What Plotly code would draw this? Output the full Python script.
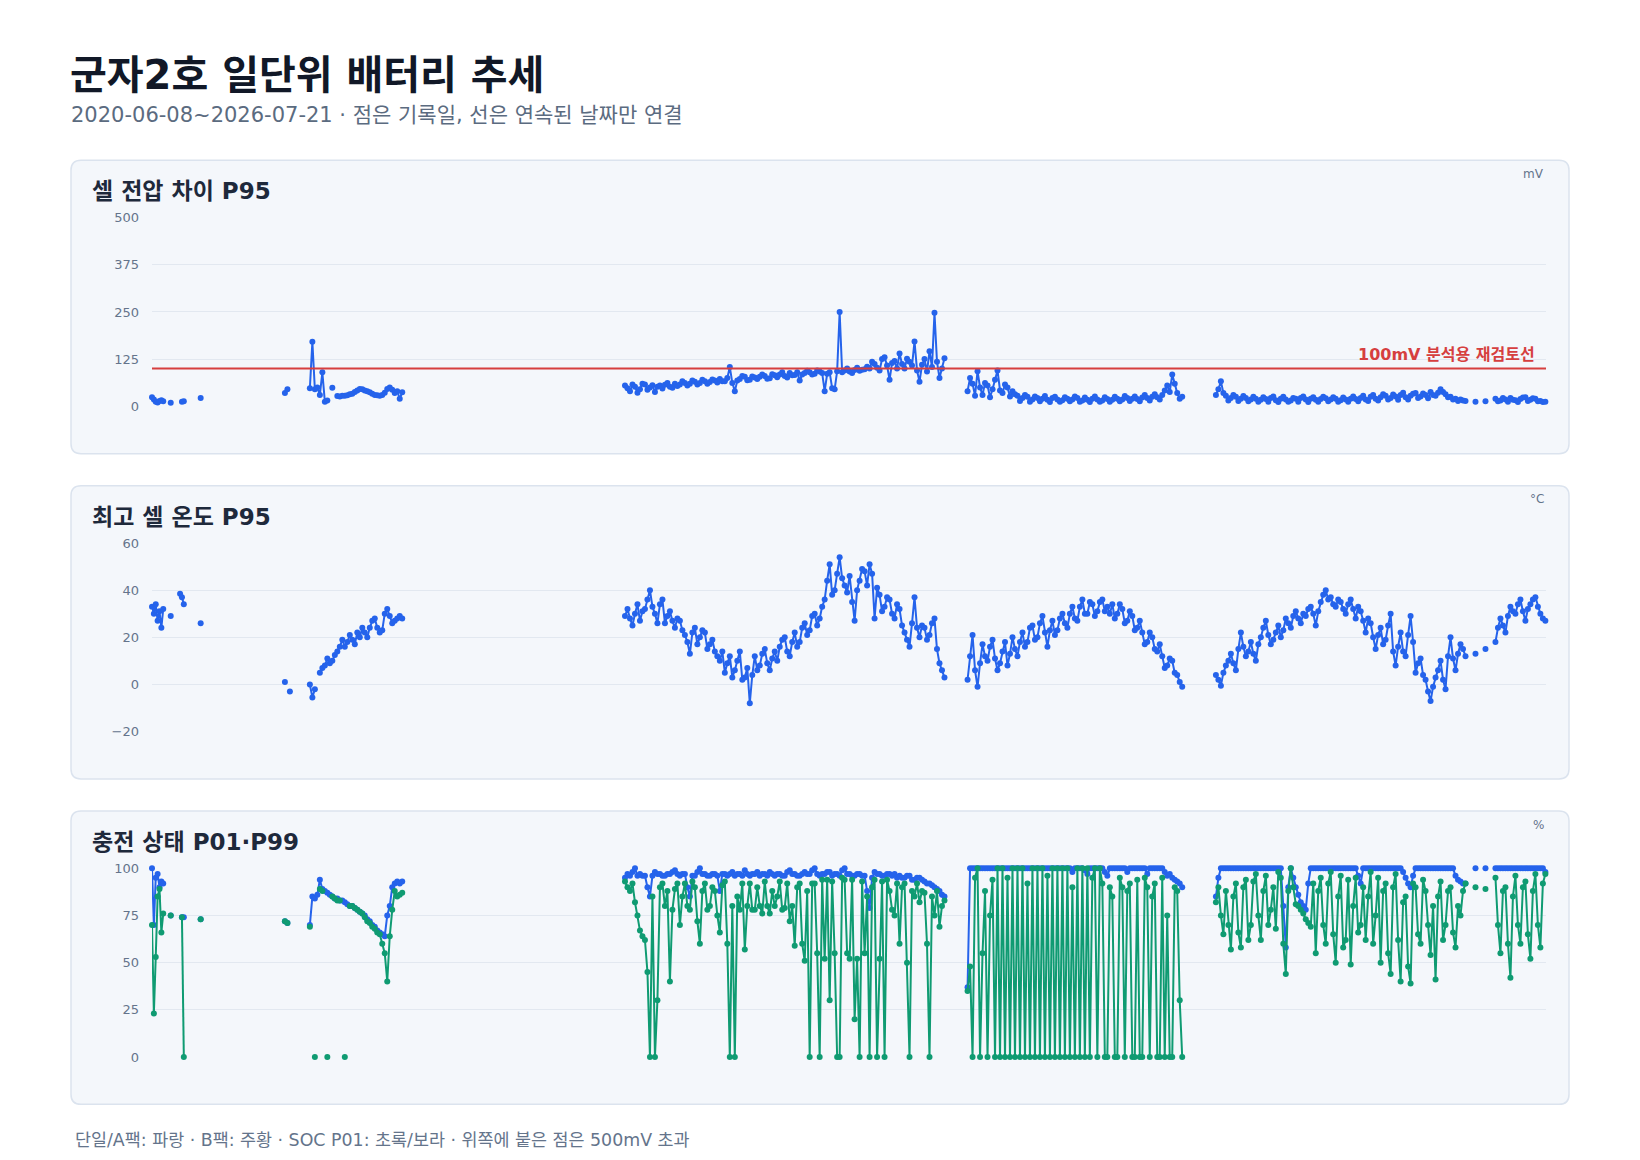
import pandas as pd
import plotly.graph_objects as go

TITLE = "군자2호 일단위 배터리 추세"
SUBTITLE = "2020-06-08~2026-07-21 · 점은 기록일, 선은 연속된 날짜만 연결"
FOOTNOTE = "단일/A팩: 파랑 · B팩: 주황 · SOC P01: 초록/보라 · 위쪽에 붙은 점은 500mV 초과"
PANEL_TITLES = ["셀 전압 차이 P95", "최고 셀 온도 P95", "충전 상태 P01·P99"]
PANEL_UNITS = ["mV", "°C", "%"]
VOLT_TICKS = [0, 125, 250, 375, 500]
TEMP_TICKS = [-20, 0, 20, 40, 60]
SOC_TICKS = [0, 25, 50, 75, 100]
THRESHOLD_MV = 100
THRESHOLD_LABEL = "100mV 분석용 재검토선"
X_START, X_END = "2020-06-08", "2026-07-21"

# 기록 구간: 시작일과 샘플 간격(일)
SEG_STARTS = ["2020-06-08", "2021-01-07", "2022-07-06", "2024-01-06", "2025-02-07"]
SEG_STEP_DAYS = [3, 4, 4, 4, 4]

N = None

# 셀 전압 차이 P95 (mV)
VOLT_A = [24, 18, 12, 10, 14, 16, 13, N, N, N, 9, N, N, N, N, N, 12, 13, N, N,
          N, N, N, N, N, N, 22, N]
VOLT_B = [35, 45, N, N, N, N, N, N, N, N,
          48, 171, 45, 50, 30, 90, 12, 15, N, 49,
          N, 27, 26, 28, 28, 29, 32, 33, 38, 42,
          46, 45, 42, 40, 37, 33, 30, 29, 28, 30,
          36, 46, 50, 44, 35, 40, 20, 37]
VOLT_C = [55, 48, 40, 58, 52, 36, 45, 60, 58, 44, 50, 56, 38, 52, 55, 47, 57, 62, 52, 49,
          60, 54, 58, 66, 62, 55, 60, 68, 65, 58, 62, 70, 66, 60, 64, 71, 68, 63, 72, 66,
          66, 75, 104, 62, 40, 68, 72, 80, 78, 69, 70, 79, 76, 72, 78, 84, 80, 73, 74, 85,
          82, 77, 84, 90, 80, 76, 88, 82, 83, 90, 68, 84, 88, 94, 90, 84, 86, 95, 92, 88,
          40, 86, 90, 48, 45, 93, 250, 90, 95, 100, 92, 88, 96, 102, 94, 97, 98, 105, 100, 118,
          112, 102, 95, 125, 130, 108, 70, 115, 120, 100, 140, 112, 100, 126, 118, 108, 172, 95, 65, 110,
          125, 92, 146, 104, 248, 118, 75, 100, 127]
VOLT_D = [40, 75, 60, 28, 93, 50, 30, 62, 55, 24, 45, 70, 95, 42, 35, 58, 50, 26, 40, 32,
          28, 14, 22, 30, 25, 12, 18, 26, 22, 13, 20, 27, 17, 11, 22, 25, 18, 12, 16, 24,
          20, 13, 18, 26, 22, 12, 15, 23, 17, 11, 20, 26, 18, 12, 15, 24, 19, 12, 17, 25,
          20, 13, 18, 27, 22, 14, 20, 26, 19, 13, 23, 30, 22, 15, 25, 32, 24, 18, 30, 42,
          55, 38, 84, 60, 35, 20, 25]
VOLT_E = [30, 45, 66, 35, 28, 15, 22, 30, 25, 14, 20, 27, 22, 13, 18, 25, 20, 12, 17, 24,
          19, 12, 22, 26, 16, 11, 20, 25, 18, 12, 15, 22, 20, 12, 22, 26, 18, 11, 20, 24,
          17, 12, 19, 25, 21, 13, 18, 24, 20, 12, 16, 23, 18, 12, 20, 26, 19, 13, 22, 28,
          18, 14, 25, 30, 20, 15, 24, 32, 28, 18, 22, 31, 26, 17, 30, 36, 24, 18, 28, 33,
          35, 22, 26, 34, 30, 21, 38, 30, 28, 36, 45, 38, 32, 24, 25, 18, 20, 14, 18, 15,
          14, N, N, N, 12, N, N, N, 13, N, N, N, 20, 13, 15, 22, 18, 12, 22, 17,
          16, 11, 19, 23, 24, 14, 17, 21, 20, 13, 14, 11, 12]

# 최고 셀 온도 P95 (°C)
TEMP_A = [33, 30, 34, 27, 31, 24, 32, N, N, N, 29, N, N, N, N, 38.5, 37, 34, N, N,
          N, N, N, N, N, N, 26, N]
TEMP_B = [1, N, -3, N, N, N, N, N, N, N,
          0, -5.5, -2, N, 5, 7, 8, 11, 9, 10,
          12.5, 14, 16, 19, 16, 18, 21, 19, 17, 22,
          20, 24, 22, 20, 24, 27, 28, 24, 22, 23,
          30, 32, 29, 26, 27, 28, 29, 28]
TEMP_C = [29, 32, 28, 25, 30, 34, 27, 31, 32, 36, 40, 33, 30, 26, 34, 36, 26, 29, 31, 27,
          24, 28, 27, 23, 21, 18, 13, 22, 24, 17, 20, 23, 22, 15, 17, 19, 14, 12, 10, 14,
          5, 9, 12, 3, 6, 10, 14, 2, 3, 7, -8, 4, 12, 6, 8, 13, 15, 9, 6, 11,
          14, 10, 16, 19, 20, 14, 12, 18, 22, 16, 18, 24, 26, 21, 23, 29, 30, 25, 28, 33,
          36, 44, 51, 38, 40, 47, 54, 45, 42, 39, 46, 35, 27, 40, 44, 49, 48, 42, 51, 47,
          28, 41, 38, 31, 33, 37, 36, 30, 28, 34, 32, 25, 22, 19, 16, 26, 37, 24, 20, 25,
          24, 19, 21, 26, 28, 15, 9, 6, 3]
TEMP_D = [2, 12, 21, 6, -1, 9, 17, 12, 10, 16, 19, 11, 6, 9, 14, 18, 8, 13, 20, 15,
          12, 18, 22, 16, 18, 24, 25, 19, 20, 26, 29, 22, 16, 23, 27, 21, 23, 28, 30, 26,
          24, 30, 33, 28, 27, 33, 36, 30, 30, 35, 34, 29, 31, 35, 36, 31, 33, 30, 34, 28,
          30, 34, 32, 26, 27, 31, 29, 23, 24, 27, 22, 17, 18, 22, 20, 15, 14, 17, 12, 7,
          8, 11, 10, 5, 4, 1, -1]
TEMP_E = [4, 2, -0.5, 5, 8, 10, 13, 9, 6, 15, 22, 16, 12, 14, 18, 13, 10, 17, 20, 24,
          27, 21, 17, 19, 22, 25, 20, 23, 28, 26, 24, 29, 31, 28, 26, 30, 29, 32, 33, 30,
          25, 31, 35, 38, 40, 36, 37, 34, 33, 36, 35, 32, 30, 34, 36, 32, 28, 33, 31, 27,
          22, 28, 26, 20, 15, 21, 24, 17, 19, 25, 30, 14, 8, 16, 22, 14, 12, 21, 29, 18,
          5, 9, 11, 4, 2, -3, -7, -1, 3, 6, 10, 2, -2, 12, 20, 11, 6, 13, 17, 15,
          12, N, N, N, 13, N, N, N, 15, N, N, N, 18, 24, 28, 25, 22, 29, 33, 31,
          30, 34, 36, 31, 27, 32, 34, 36, 37, 33, 30, 28, 27]

# 충전 상태 P99 (파랑) / P01 (초록) (%)
SOC_HI_A = [100, 70, 95, 97, 90, 93, 92, N, N, N, 75, N, N, N, N, N, 74, 74, N, N,
            N, N, N, N, N, N, 73, N]
SOC_LO_A = [70, 23, 53, 85, 89, 66, 76, N, N, N, 75, N, N, N, N, N, 74, 0, N, N,
            N, N, N, N, N, N, 73, N]
SOC_HI_B = [72, 71, N, N, N, N, N, N, N, N,
            70, 85, 84, 86, 94, 89, 88, 87, 86, 85,
            84, 84, 83, 83, 82, 81, 80, 80, 79, 78,
            77, 76, 75, 73, 72, 70, 69, 67, 66, 65,
            64, 75, 80, 90, 92, 93, 92, 93]
SOC_LO_B = [72, 71, N, N, N, N, N, N, N, N,
            69, N, 0, N, 89, 88, N, 0, N, 85,
            84, 83, 83, N, 0, N, 80, 80, 79, 78,
            77, 76, 74, 72, 71, 69, 68, 66, 65, 60,
            55, 40, 64, 78, 88, 85, 86, 87]
SOC_HI_C = [95, 97, 96, 98, 100, 96, 97, 96, 96, 90, 85, 96, 98, 97, 97, 96, 96, 97, 97, 98,
            99, 97, 96, 97, 97, 90, 85, 96, 96, 98, 100, 97, 97, 96, 96, 97, 97, 96, 88, 97,
            97, 96, 97, 98, 96, 97, 97, 96, 99, 97, 96, 97, 97, 98, 96, 97, 97, 96, 98, 97,
            96, 97, 97, 96, 96, 98, 99, 97, 97, 96, 96, 97, 98, 97, 97, 99, 100, 97, 96, 97,
            97, 98, 98, 96, 97, 97, 96, 99, 100, 97, 97, 96, 96, 97, 97, 96, 96, 88, 79, 95,
            98, 97, 97, 96, 96, 97, 97, 96, 97, 95, 96, 95, 95, 96, 96, 94, 94, 95, 95, 94,
            93, 92, 92, 91, 90, 89, 88, 86, 85]
SOC_LO_C = [93, 90, 88, 92, 82, 75, 67, 64, 62, 45, 0, 85, 0, 30, 90, 92, 80, 88, 40, 78,
            89, 92, 70, 85, 92, 80, 78, 93, 90, 72, 60, 88, 92, 78, 80, 90, 88, 75, 66, 91,
            93, 60, 0, 80, 0, 85, 78, 92, 57, 80, 92, 78, 78, 90, 80, 76, 93, 80, 76, 88,
            80, 85, 93, 78, 79, 92, 72, 80, 59, 90, 92, 60, 51, 88, 0, 92, 92, 55, 0, 94,
            52, 94, 30, 93, 55, 0, 0, 95, 94, 55, 52, 94, 20, 52, 0, 93, 55, 85, 0, 90,
            94, 0, 52, 93, 0, 94, 88, 78, 75, 92, 60, 90, 92, 50, 0, 88, 85, 92, 82, 88,
            87, 60, 0, 85, 75, 88, 69, 80, 83]
SOC_HI_D = [37, 100, 100, 100, 100, 100, 100, 100, 100, 100, 100, 100, 100, 100, 100, 100, 100, 100, 100, 100,
            100, 100, 100, 100, 100, 100, 100, 100, 100, 100, 100, 100, 100, 100, 100, 100, 100, 100, 100, 100,
            100, 100, 98, 100, 100, 100, 100, 99, 97, 100, 100, 100, 100, 100, 100, 98, 96, 100, 100, 100,
            100, 100, 100, 100, 98, 100, 100, 100, 100, 100, 100, 100, 97, 100, 100, 100, 100, 100, 100, 98,
            96, 97, 95, 94, 93, 92, 90]
SOC_LO_D = [35, 48, 0, 95, 100, 0, 55, 88, 0, 75, 94, 0,
            100, 0, 100, 0, 95, 0, 100, 0, 100, 0, 100, 0, 92, 0, 100, 0, 100, 0,
            100, 0, 96, 0, 100, 0, 100, 0, 100, 0, 100, 0, 90, 0, 100, 0, 100, 0, 100,
            0, 95, 100, 0, 100, 92, 0, 0, 90, 85, 0,
            0, 95, 90, 0, 88, 92, 0, 0, 94, 0, 0, 95, 90, 0, 85, 92, 0, 0, 95, 0,
            75, 0, 0, 90, 88, 30, 0]
SOC_HI_E = [85, 95, 100, 100, 100, 100, 100, 100, 100, 100, 100, 100, 100, 100, 100, 100, 100, 100, 100, 100,
            100, 100, 100, 100, 100, 100, 100, 80, 58, 90, 100, 95, 90, 86, 82, 80, 78, 92, 100, 100,
            100, 100, 100, 100, 100, 100, 100, 100, 100, 100, 100, 100, 100, 100, 100, 100, 100, 96, 92, 100,
            100, 100, 100, 100, 100, 100, 100, 100, 100, 100, 100, 100, 100, 100, 100, 98, 95, 92, 90, 96,
            100, 100, 100, 100, 100, 100, 100, 100, 100, 100, 100, 100, 100, 100, 100, 100, 96, 94, 93, 92,
            92, N, N, N, 100, N, N, N, 100, N, N, N, 100, 100, 100, 100, 100, 100, 100, 100,
            100, 100, 100, 100, 100, 100, 100, 100, 100, 100, 100, 100, 98]
SOC_LO_E = [82, 90, 75, 65, 88, 70, 57, 85, 92, 66, 58, 90, 94, 62, 70, 93, 97, 75, 62, 88,
            96, 70, 78, 90, 68, 98, 95, 60, 44, 88, 100, 90, 81, 80, 78, 76, 73, 71, 69, 92,
            55, 88, 95, 70, 60, 92, 98, 65, 50, 85, 96, 58, 62, 94, 49, 80, 95, 66, 70, 90,
            62, 85, 98, 60, 75, 95, 50, 88, 92, 55, 44, 90, 97, 62, 40, 82, 85, 48, 39, 92,
            90, 65, 60, 94, 88, 70, 54, 80, 41, 85, 93, 62, 70, 88, 90, 66, 58, 80, 75, 88,
            92, N, N, N, 90, N, N, N, 89, N, N, N, 95, 70, 55, 88, 90, 60, 42, 85,
            96, 70, 60, 90, 93, 65, 52, 88, 97, 70, 58, 92, 97]

BLUE = "#2563eb"
GREEN = "#0f9b72"
RED = "#d63f3f"
W, H = 1640, 1160
FONT = "DejaVu Sans, Noto Sans CJK KR, sans-serif"


def build_series(segments):
    """구간별 값을 날짜축으로 펼치고, 구간 사이는 선을 끊는다."""
    xs, ys = [], []
    for start, step, vals in zip(SEG_STARTS, SEG_STEP_DAYS, segments):
        dates = pd.date_range(start, periods=len(vals), freq=f"{step}D")
        xs += list(dates) + [None]
        ys += list(vals) + [None]
    return xs, ys


def px_x(x):
    return x / W


def px_y(y):
    return 1 - y / H


def rounded_box(x0, y0, x1, y1, r=10):
    # 픽셀 좌표로 받은 둥근 사각형을 paper 좌표 path 로 변환
    rx, ry = r / W, r / H
    L, R = px_x(x0), px_x(x1)
    T, B = px_y(y0), px_y(y1)
    return (f"M {L + rx},{T} L {R - rx},{T} Q {R},{T} {R},{T - ry} "
            f"L {R},{B + ry} Q {R},{B} {R - rx},{B} L {L + rx},{B} "
            f"Q {L},{B} {L},{B + ry} L {L},{T - ry} Q {L},{T} {L + rx},{T} Z")


def axis_id(n):
    return "" if n == 1 else str(n)


series = [
    (1, [VOLT_A, VOLT_B, VOLT_C, VOLT_D, VOLT_E], BLUE),
    (2, [TEMP_A, TEMP_B, TEMP_C, TEMP_D, TEMP_E], BLUE),
    (3, [SOC_HI_A, SOC_HI_B, SOC_HI_C, SOC_HI_D, SOC_HI_E], BLUE),
    (3, [SOC_LO_A, SOC_LO_B, SOC_LO_C, SOC_LO_D, SOC_LO_E], GREEN),
]

fig = go.Figure()
for row, segs, color in series:
    xs, ys = build_series(segs)
    fig.add_trace(go.Scatter(
        x=xs, y=ys, mode="lines+markers",
        line=dict(color=color, width=2),
        marker=dict(color=color, size=6),
        xaxis="x" + axis_id(row), yaxis="y" + axis_id(row),
        cliponaxis=False, hoverinfo="skip", showlegend=False,
    ))

# 패널 배치 (그림 픽셀 기준)
box_tops = [155.3, 484.9, 814.5]
box_h = 297.2
plot_top_off, plot_h = 58.1, 191.1
ranges = [[0, 500], [-20, 60], [0, 100]]
ticks = [VOLT_TICKS, TEMP_TICKS, SOC_TICKS]

shapes, annotations = [], []
layout = {}
for i, top in enumerate(box_tops):
    a = axis_id(i + 1)
    ptop = top + plot_top_off
    pbot = ptop + plot_h
    layout["xaxis" + a] = dict(
        domain=[px_x(152), px_x(1546)], range=[X_START, X_END], type="date",
        visible=False, anchor="y" + a, fixedrange=True,
    )
    layout["yaxis" + a] = dict(
        domain=[px_y(pbot), px_y(ptop)], range=ranges[i], tickvals=ticks[i],
        showgrid=True, gridcolor="#e2e8f0", gridwidth=1, zeroline=False,
        showline=False, ticks="", ticklabelstandoff=12,
        tickfont=dict(size=13, color="#64748b", family=FONT),
        anchor="x" + a, fixedrange=True,
    )
    shapes.append(dict(
        type="path", xref="paper", yref="paper", path=rounded_box(71, top, 1569, top + box_h),
        fillcolor="#f4f7fb", line=dict(color="#dbe3ee", width=1.5), layer="below",
    ))
    annotations.append(dict(
        text=f"<b>{PANEL_TITLES[i]}</b>", xref="paper", yref="paper",
        x=px_x(90), y=px_y(top + 31.4), xanchor="left", yanchor="middle",
        showarrow=False, font=dict(size=23, color="#1e293b", family=FONT),
    ))
    annotations.append(dict(
        text=PANEL_UNITS[i], xref="paper", yref="paper",
        x=px_x(1546), y=px_y(top + 13.9), xanchor="right", yanchor="middle",
        showarrow=False, font=dict(size=12, color="#64748b", family=FONT),
    ))

# 100mV 재검토선
shapes.append(dict(
    type="line", xref="x domain", yref="y", x0=0, x1=1, y0=THRESHOLD_MV, y1=THRESHOLD_MV,
    line=dict(color=RED, width=2), layer="above",
))
annotations.append(dict(
    text=f"<b>{THRESHOLD_LABEL}</b>", xref="paper", yref="y",
    x=px_x(1537), y=THRESHOLD_MV, xanchor="right", yanchor="bottom", yshift=3,
    showarrow=False, font=dict(size=16, color=RED, family=FONT),
))

annotations += [
    dict(text=f"<b>{TITLE}</b>", xref="paper", yref="paper", x=px_x(68), y=px_y(68.8),
         xanchor="left", yanchor="middle", showarrow=False,
         font=dict(size=40, color="#111827", family=FONT)),
    dict(text=SUBTITLE, xref="paper", yref="paper", x=px_x(69), y=px_y(109.7),
         xanchor="left", yanchor="middle", showarrow=False,
         font=dict(size=21, color="#5b6b80", family=FONT)),
    dict(text=FOOTNOTE, xref="paper", yref="paper", x=px_x(73), y=px_y(1148.2),
         xanchor="left", yanchor="middle", showarrow=False,
         font=dict(size=17.4, color="#64748b", family=FONT)),
]

fig.update_layout(
    width=W, height=H,
    margin=dict(l=0, r=0, t=0, b=0),
    paper_bgcolor="white", plot_bgcolor="rgba(0,0,0,0)",
    font=dict(family=FONT),
    shapes=shapes, annotations=annotations,
    showlegend=False,
    **layout,
)

# 페이지 여백 때문에 그림이 밀리지 않도록 좌상단에 고정
PIN_TOP_LEFT = ("document.body.style.margin='0';"
                "var gd=document.getElementById('{plot_id}');"
                "gd.style.position='absolute';gd.style.left='0';gd.style.top='0';")

fig.write_html("out.html", post_script=PIN_TOP_LEFT, config={"displayModeBar": False})
